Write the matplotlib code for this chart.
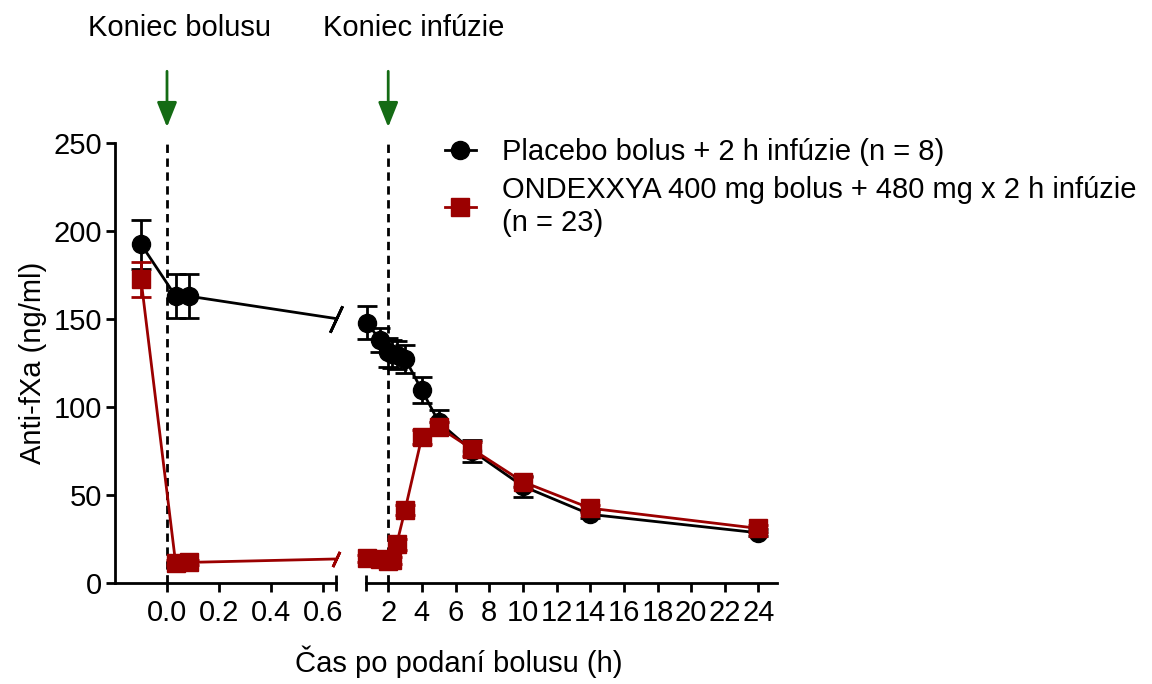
import numpy as np
import matplotlib
matplotlib.use('Agg')
import matplotlib.pyplot as plt
from matplotlib.lines import Line2D
from matplotlib.ticker import FormatStrFormatter

plt.rcParams['font.family'] = ['Liberation Sans', 'DejaVu Sans']

#DATA-----------------------------------------------------------
time_h = np.array([-0.1, 0.033, 0.083, 0.75, 1.5, 2.0, 2.25, 2.5, 3, 4, 5, 7, 10, 14, 24])
placebo_mean = np.array([192.5, 163, 163, 148, 138, 131, 130, 129.5, 127.5, 109.5, 91.5, 75, 55, 39, 28.5])
placebo_sem = np.array([14, 12.5, 12.5, 9.5, 7, 8, 8, 8, 8, 7.5, 7, 6, 6, 2, 2])
andexa_mean = np.array([172.5, 11.5, 11.7, 14, 13.5, 12.5, 13, 22, 41.5, 83, 88.5, 76, 57.5, 42.5, 31])
andexa_sem = np.array([10, 1.5, 1.5, 2, 2, 2, 2, 3, 3, 4, 3, 4, 3, 2, 2])

label_placebo = 'Placebo bolus + 2 h infúzie (n = 8)'
label_andexa = 'ONDEXXYA 400 mg bolus + 480 mg x 2 h infúzie\n(n = 23)'

left_ticks = [0.0, 0.2, 0.4, 0.6]
right_ticks = list(range(2, 26, 2))
y_ticks = [0, 50, 100, 150, 200, 250]

#STYLE----------------------------------------------------------
BLACK = 'black'
RED = '#9b0000'
GREEN = '#146b14'
FS = 21
LW = 2.0
MS = 13
left_lim = (-0.2, 0.65)
right_lim = (0.68, 25.1)

W, H = 1152, 684
fig = plt.figure(figsize=(W / 100, H / 100), dpi=100)
ax_l = fig.add_axes([115 / W, 1 - 583 / H, 221 / W, 440 / H])
ax_r = fig.add_axes([366 / W, 1 - 583 / H, 411 / W, 440 / H], sharey=ax_l)

series = [
    (placebo_mean, placebo_sem, BLACK, 'o', 21),
    (andexa_mean, andexa_sem, RED, 's', 12),
]

for ax, lim in [(ax_l, left_lim), (ax_r, right_lim)]:
    in_range = (time_h >= lim[0]) & (time_h <= lim[1])
    for mean, sem, color, marker, cut_ms in series:
        # connecting line, clipped at the axis break
        ax.plot(time_h, mean, color=color, lw=LW, zorder=2)
        eb = ax.errorbar(time_h[in_range], mean[in_range], yerr=sem[in_range], fmt='none',
                         ecolor=color, elinewidth=LW, capsize=7, capthick=LW, zorder=3)
        for art in eb.lines[1] + eb.lines[2]:
            art.set_clip_on(False)
        ax.plot(time_h[in_range], mean[in_range], linestyle='none', marker=marker,
                ms=MS, color=color, clip_on=False, zorder=4)
    ax.set_xlim(*lim)

# break marks on the lines at the end of the left segment
for mean, sem, color, marker, cut_ms in series:
    y_cut = np.interp(left_lim[1], time_h, mean)
    ax_l.plot([left_lim[1]], [y_cut], linestyle='none', marker=(2, 2, -25), ms=cut_ms,
              mew=LW, color=color, clip_on=False, zorder=4)

# end of bolus / end of infusion
for ax, xpos in [(ax_l, 0.0), (ax_r, 2.0)]:
    ax.axvline(xpos, ymin=0, ymax=1, color='black', lw=LW, linestyle=(0, (3, 2)), zorder=1)
    ax.annotate('', xy=(xpos, 1.036), xytext=(xpos, 1.163), xycoords=ax.get_xaxis_transform(),
                arrowprops=dict(arrowstyle='-|>,head_length=0.4,head_width=0.16', color=GREEN,
                                lw=2, mutation_scale=38, shrinkA=0, shrinkB=0),
                annotation_clip=False)

#AXES-----------------------------------------------------------
ax_l.set_ylim(0, 250)
ax_l.set_yticks(y_ticks)
ax_l.set_xticks(left_ticks)
ax_l.xaxis.set_major_formatter(FormatStrFormatter('%.1f'))
ax_l.set_xticks([left_lim[1]], minor=True)
ax_r.set_xticks(right_ticks)
ax_r.set_xticks([right_lim[0]], minor=True)

for ax in (ax_l, ax_r):
    for s in ('top', 'right'):
        ax.spines[s].set_visible(False)
    ax.spines['bottom'].set_linewidth(LW)
    ax.spines['left'].set_linewidth(LW)
    ax.tick_params(axis='both', which='major', direction='out', length=6.5, width=LW,
                   labelsize=FS, pad=3)
    ax.tick_params(axis='x', which='minor', direction='inout', length=11, width=LW)
    ax.patch.set_visible(False)

ax_r.spines['left'].set_visible(False)
ax_r.tick_params(axis='y', which='both', left=False, labelleft=False)
ax_r.tick_params(axis='x', pad=5)
ax_l.tick_params(axis='x', pad=5)

#TEXT-----------------------------------------------------------
fig.text(33 / W, 1 - 363 / H, 'Anti-fXa (ng/ml)', rotation=90, ha='center', va='center', fontsize=FS)
fig.text(459 / W, 1 - 662 / H, 'Čas po podaní bolusu (h)', ha='center', va='center', fontsize=FS)
fig.text(180 / W, 1 - 28 / H, 'Koniec bolusu', ha='center', va='center', fontsize=FS)
fig.text(414 / W, 1 - 28 / H, 'Koniec infúzie', ha='center', va='center', fontsize=FS)

handles = [
    Line2D([], [], color=BLACK, marker='o', ms=MS, lw=LW),
    Line2D([], [], color=RED, marker='s', ms=MS, lw=LW),
]
ax_r.legend(handles, [label_placebo, label_andexa], loc='upper left',
            bbox_to_anchor=(445 / W, 1 - 138 / H), bbox_transform=fig.transFigure,
            frameon=False, fontsize=FS, handlelength=1.05, handletextpad=0.9,
            borderpad=0, borderaxespad=0, labelspacing=0.35)

fig.savefig('out.png', dpi=100)
